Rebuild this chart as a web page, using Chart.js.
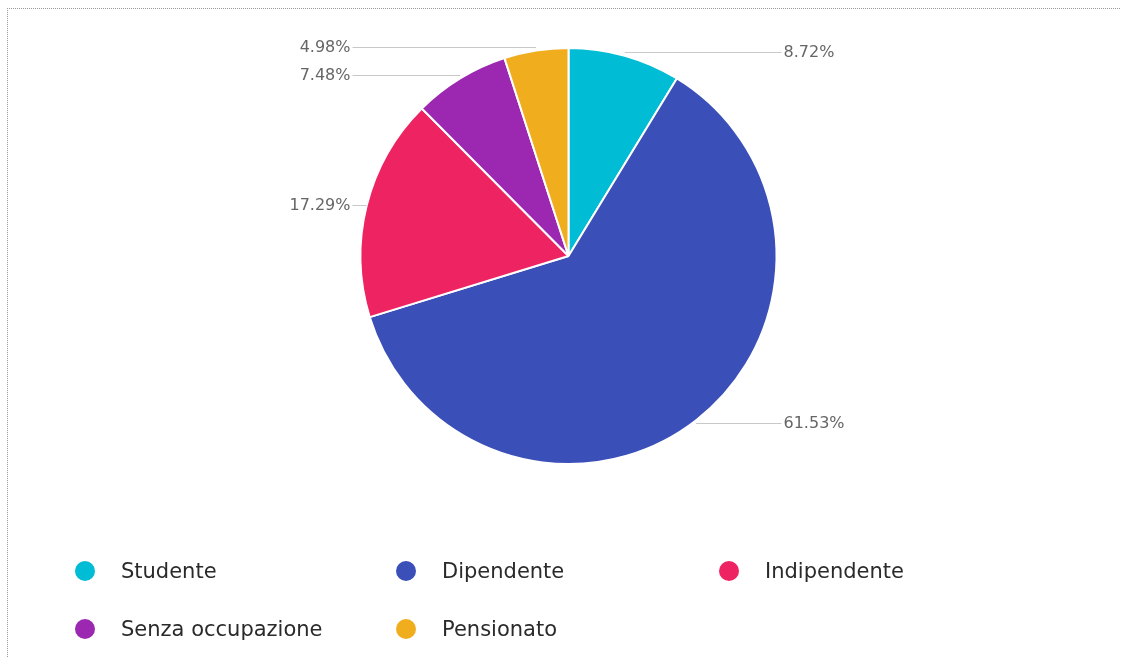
<!DOCTYPE html>
<html>
<head>
<meta charset="utf-8">
<script src="https://cdn.jsdelivr.net/npm/chart.js@4"></script>
<style>
  html, body { margin: 0; padding: 0; background: #fff; }
  #wrap { position: relative; width: 1121px; height: 657px; overflow: hidden; }
  #frame { position: absolute; left: 7px; top: 8px; width: 1200px; height: 700px; border-top: 1px dotted #999; border-left: 1px dotted #999; }
  #chart-box { position: absolute; left: 0; top: 0; width: 1121px; height: 657px; }
  #legend { position: absolute; left: 75px; top: 561px; display: grid; grid-template-columns: 321px 323px 320px; row-gap: 38px; font-family: "DejaVu Sans", sans-serif; font-size: 21px; color: #2a2a2a; }
  .item { display: flex; align-items: center; height: 20px; }
  .dot { width: 20px; height: 20px; border-radius: 50%; margin-right: 26px; flex: none; }
</style>
</head>
<body>
<div id="wrap">
  <div id="frame"></div>
  <div id="chart-box"><canvas id="pie"></canvas></div>
  <div id="legend"></div>
</div>
<script>
const categories = ["Studente", "Dipendente", "Indipendente", "Senza occupazione", "Pensionato"];
const shares = [8.72, 61.53, 17.29, 7.48, 4.98];
const colors = ["#00bcd4", "#3b4fb8", "#ee2361", "#9c27b0", "#f0ad1e"];

// labels outside the pie, joined to the edge by a flat line
const leaderLabels = {
  id: "leaderLabels",
  afterDatasetsDraw(chart) {
    const ctx = chart.ctx;
    const arcs = chart.getDatasetMeta(0).data;
    ctx.save();
    ctx.font = "16px 'DejaVu Sans', sans-serif";
    ctx.textBaseline = "middle";
    arcs.forEach((arc, i) => {
      const { x, y, startAngle, endAngle, outerRadius } = arc.getProps(["x", "y", "startAngle", "endAngle", "outerRadius"], true);
      const mid = (startAngle + endAngle) / 2;
      const ex = x + Math.cos(mid) * outerRadius;
      const ly = Math.round(y + Math.sin(mid) * (outerRadius + 4)) + 0.5;
      const right = Math.cos(mid) >= 0;
      const lx = right ? x + outerRadius + 5 : x - outerRadius - 8;

      ctx.strokeStyle = "#c8c8c8";
      ctx.lineWidth = 1;
      ctx.beginPath();
      ctx.moveTo(ex, ly);
      ctx.lineTo(lx, ly);
      ctx.stroke();

      ctx.fillStyle = "#666";
      ctx.textAlign = right ? "left" : "right";
      ctx.fillText(shares[i].toFixed(2) + "%", right ? lx + 2 : lx - 2, ly);
    });
    ctx.restore();
  },
};

function buildLegend() {
  const box = document.getElementById("legend");
  categories.forEach((name, i) => {
    const item = document.createElement("div");
    item.className = "item";
    item.innerHTML = `<span class="dot" style="background:${colors[i]}"></span><span>${name}</span>`;
    box.appendChild(item);
  });
}

function main() {
  new Chart(document.getElementById("pie"), {
    type: "pie",
    data: {
      labels: categories,
      datasets: [{
        data: shares,
        backgroundColor: colors,
        borderColor: "#fff",
        borderWidth: 2,
        radius: 208,
      }],
    },
    options: {
      responsive: true,
      maintainAspectRatio: false,
      animation: false,
      layout: { padding: { left: 16, right: 0, top: 48, bottom: 193 } },
      plugins: {
        legend: { display: false },
        tooltip: { enabled: false },
      },
    },
    plugins: [leaderLabels],
  });
  buildLegend();
}

document.addEventListener("DOMContentLoaded", main);
</script>
</body>
</html>
